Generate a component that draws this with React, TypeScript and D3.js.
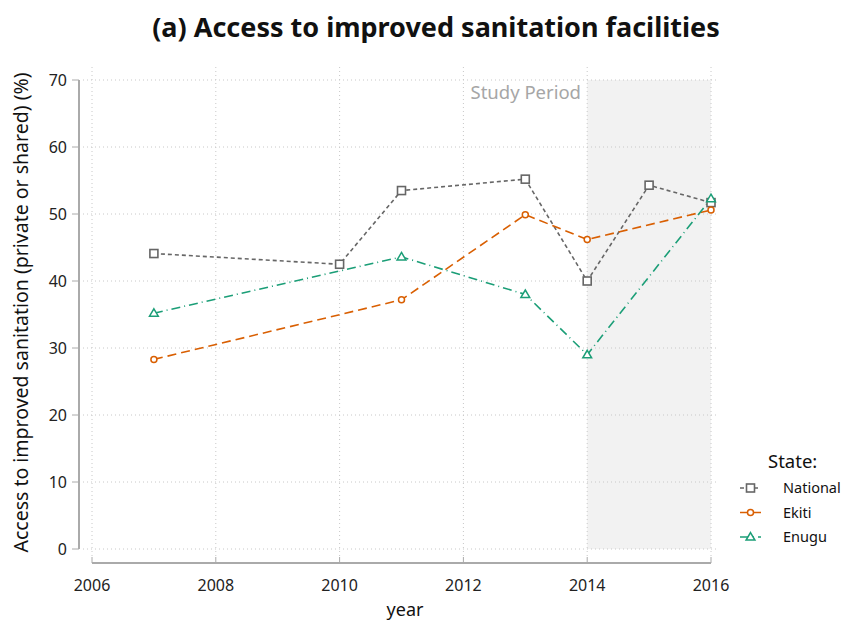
import React from 'react';
import * as d3 from 'd3';

const years = [2006, 2008, 2010, 2012, 2014, 2016];
const yTicks = [0, 10, 20, 30, 40, 50, 60, 70];

const nationalYears = [2007, 2010, 2011, 2013, 2014, 2015, 2016];
const nationalValues = [44.1, 42.5, 53.5, 55.2, 40.0, 54.3, 51.7];

const ekitiYears = [2007, 2011, 2013, 2014, 2016];
const ekitiValues = [28.3, 37.2, 49.9, 46.2, 50.6];

const enuguYears = [2007, 2011, 2013, 2014, 2016];
const enuguValues = [35.2, 43.6, 38.0, 29.0, 52.3];

const studyPeriod = [2014, 2016];

const FONT = "'Noto Sans', 'Open Sans', sans-serif";

const series = [
  { name: 'National', years: nationalYears, values: nationalValues, color: '#666666', dash: '4,3', shape: 'square' },
  { name: 'Ekiti', years: ekitiYears, values: ekitiValues, color: '#d95f02', dash: '9,5', shape: 'circle' },
  { name: 'Enugu', years: enuguYears, values: enuguValues, color: '#1b9e77', dash: '9,4,1,4', shape: 'triangle' },
];

function Marker({ shape, x, y, color }: { shape: string; x: number; y: number; color: string }) {
  if (shape === 'square') {
    return <rect x={x - 4} y={y - 4} width={8} height={8} fill="white" stroke={color} strokeWidth={1.6} />;
  }
  if (shape === 'circle') {
    return <circle cx={x} cy={y} r={3} fill="white" stroke={color} strokeWidth={1.5} />;
  }
  const s = 4.4;
  const p = `M${x},${y - s} L${x + s},${y + s * 0.7} L${x - s},${y + s * 0.7} Z`;
  return <path d={p} fill="white" stroke={color} strokeWidth={1.5} />;
}

export default function App() {
  const width = 844;
  const height = 621;
  const x = d3.scaleLinear().domain([2006, 2016]).range([92, 711]);
  const y = d3.scaleLinear().domain([0, 70]).range([549, 80]);
  const panel = { left: 83, right: 718, top: 67, bottom: 556 };

  const line = d3
    .line<[number, number]>()
    .x((d) => x(d[0]))
    .y((d) => y(d[1]));

  return (
    <svg width={width} height={height} style={{ display: 'block', position: 'absolute', left: 0, top: 0 }}>
      <rect width={width} height={height} fill="white" />
      {/* study period band */}
      <rect
        x={x(studyPeriod[0])}
        y={y(70)}
        width={x(studyPeriod[1]) - x(studyPeriod[0])}
        height={y(0) - y(70)}
        fill="#f2f2f2"
      />
      {/* grid */}
      {yTicks.map((t) => (
        <line key={'gy' + t} x1={panel.left} x2={panel.right} y1={y(t)} y2={y(t)} stroke="#c8c8c8" strokeWidth={1} strokeDasharray="1,3" />
      ))}
      {years.map((t) => (
        <line key={'gx' + t} x1={x(t)} x2={x(t)} y1={panel.top} y2={panel.bottom} stroke="#c8c8c8" strokeWidth={1} strokeDasharray="1,3" />
      ))}
      <text x={581} y={99} textAnchor="end" fontFamily={FONT} fontSize={18.5} fill="#a6a6a6">
        Study Period
      </text>
      {/* lines */}
      {series.map((s) => (
        <path
          key={s.name}
          d={line(s.years.map((yr, i) => [yr, s.values[i]] as [number, number])) || ''}
          fill="none"
          stroke={s.color}
          strokeWidth={1.6}
          strokeDasharray={s.dash}
        />
      ))}
      {series.map((s) =>
        s.years.map((yr, i) => (
          <Marker key={s.name + yr} shape={s.shape} x={x(yr)} y={y(s.values[i])} color={s.color} />
        ))
      )}
      {/* y axis */}
      <line x1={79} x2={79} y1={y(70)} y2={y(0)} stroke="#aaaaaa" strokeWidth={2} />
      {yTicks.map((t) => (
        <g key={'yt' + t}>
          <line x1={72} x2={79} y1={y(t)} y2={y(t)} stroke="#aaaaaa" strokeWidth={1} />
          <text x={67} y={y(t)} dy="0.35em" textAnchor="end" fontFamily={FONT} fontSize={16} fill="#222">
            {t}
          </text>
        </g>
      ))}
      {/* x axis */}
      <line x1={x(2006)} x2={x(2016)} y1={563} y2={563} stroke="#aaaaaa" strokeWidth={2} />
      {years.map((t) => (
        <g key={'xt' + t}>
          <line x1={x(t)} x2={x(t)} y1={557} y2={563} stroke="#aaaaaa" strokeWidth={1} />
          <text x={x(t)} y={585} dy="0.35em" textAnchor="middle" fontFamily={FONT} fontSize={16} fill="#222">
            {t}
          </text>
        </g>
      ))}
      {/* axis titles */}
      <text x={405} y={610} dy="0.35em" textAnchor="middle" fontFamily={FONT} fontSize={18} fill="#111">
        year
      </text>
      <text
        transform={`translate(21,${y(35) - 2}) rotate(-90)`}
        dy="0.35em"
        textAnchor="middle"
        fontFamily={FONT}
        fontSize={19.5}
        fill="#111"
      >
        Access to improved sanitation (private or shared) (%)
      </text>
      {/* title */}
      <text x={436} y={28} dy="0.35em" textAnchor="middle" fontFamily={FONT} fontSize={27} fontWeight="bold" fill="#111">
        (a) Access to improved sanitation facilities
      </text>
      {/* legend */}
      <text x={768} y={462} dy="0.35em" fontFamily={FONT} fontSize={18.5} fill="#111">
        State:
      </text>
      {series.map((s, i) => {
        const ly = 488 + i * 24.5;
        return (
          <g key={'lg' + s.name}>
            <line x1={740} x2={761} y1={ly} y2={ly} stroke={s.color} strokeWidth={1.6} strokeDasharray={s.dash} />
            <Marker shape={s.shape} x={750.5} y={ly} color={s.color} />
            <text x={783} y={ly} dy="0.35em" fontFamily={FONT} fontSize={14.5} fill="#111">
              {s.name}
            </text>
          </g>
        );
      })}
    </svg>
  );
}
